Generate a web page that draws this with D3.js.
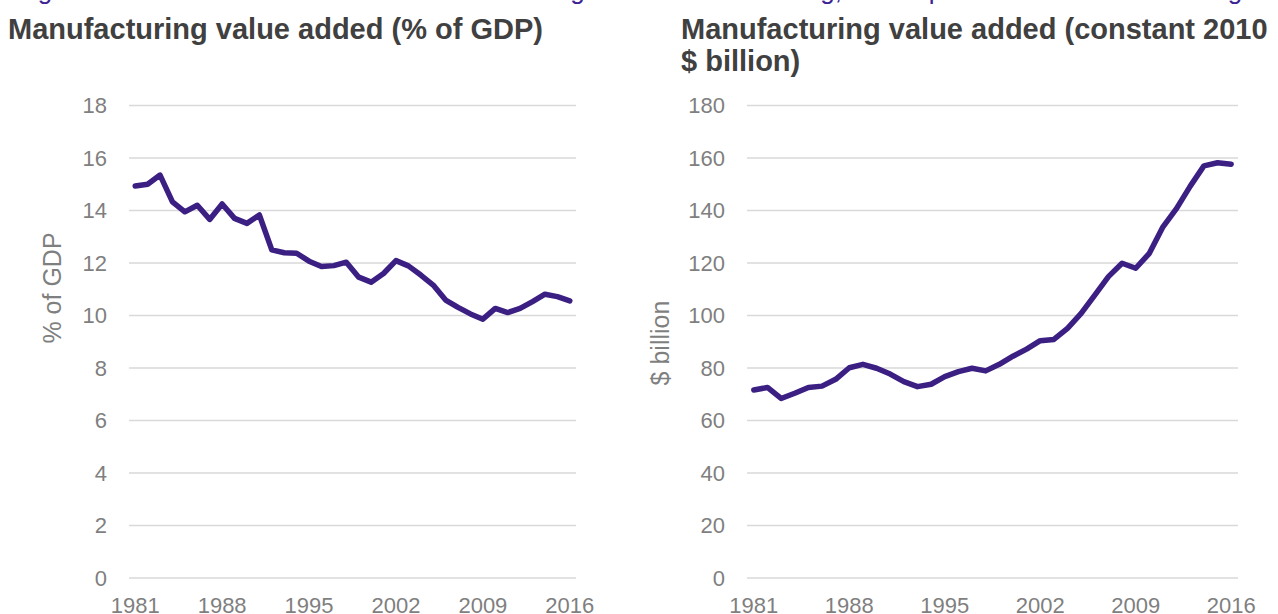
<!DOCTYPE html>
<html>
<head>
<meta charset="utf-8">
<script src="https://cdn.jsdelivr.net/npm/d3@7"></script>
<style>
  html, body { margin: 0; padding: 0; background: #ffffff; }
  svg { display: block; }
</style>
</head>
<body>
<svg id="chart" width="1278" height="614"></svg>
<script>
// Years shown on both panels
const years = d3.range(1981, 2017);
const yearTicks = [1981, 1988, 1995, 2002, 2009, 2016];

// Manufacturing value added, % of GDP
const shareOfGdp = [
  14.93, 15.00, 15.35, 14.33, 13.95, 14.20, 13.66, 14.25, 13.70, 13.51,
  13.83, 12.50, 12.39, 12.37, 12.07, 11.87, 11.90, 12.03, 11.46, 11.27,
  11.60, 12.09, 11.89, 11.54, 11.16, 10.59, 10.31, 10.06, 9.86, 10.27,
  10.11, 10.27, 10.53, 10.81, 10.72, 10.56
];

// Manufacturing value added, constant 2010 $ billion
const constantBillion = [
  71.6, 72.6, 68.4, 70.4, 72.6, 73.1, 75.7, 80.1, 81.4, 79.9,
  77.7, 74.8, 72.9, 73.8, 76.7, 78.6, 79.9, 78.9, 81.4, 84.5,
  87.2, 90.4, 90.9, 95.1, 100.8, 107.8, 114.8, 119.9, 118.0, 123.7,
  133.8, 140.8, 149.3, 157.0, 158.2, 157.6
];

const shareTicks = [0, 2, 4, 6, 8, 10, 12, 14, 16, 18];
const billionTicks = [0, 20, 40, 60, 80, 100, 120, 140, 160, 180];

const FONT = "'Liberation Sans', Arial, Helvetica, sans-serif";
const LINE = "#3b1f82";
const GRID = "#d9d9d9";
const LABEL = "#7f7f7f";
const TITLE = "#404040";

const svg = d3.select("#chart").style("font-family", FONT);

// Figure caption line running along the top edge
svg.append("text")
  .attr("y", -1.5)
  .attr("fill", "#3d2394")
  .style("font-size", "26px")
  .call(t => {
    t.append("tspan").attr("x", 16).text("Figure 1: ");
    t.append("tspan").attr("x", 420).text("Manufacturing value added is falling, but output is ");
    t.append("tspan").attr("x", 1180).text("rising");
  });

function panel(opts) {
  const g = svg.append("g");
  const x = d3.scaleBand().domain(years).range([opts.x0, opts.x1]).paddingInner(0).paddingOuter(0);
  const y = d3.scaleLinear().domain([0, opts.yMax]).range([578, 105.5]);

  // gridlines
  g.append("g")
    .selectAll("line")
    .data(opts.yTicks)
    .join("line")
      .attr("x1", opts.x0).attr("x2", opts.x1)
      .attr("y1", d => y(d)).attr("y2", d => y(d))
      .attr("stroke", GRID).attr("stroke-width", 1.5);

  // y axis labels
  const yAxis = g.append("g")
    .attr("transform", `translate(${opts.x0 - 22},0)`)
    .call(d3.axisLeft(y).tickValues(opts.yTicks).tickSize(0).tickPadding(0).tickFormat(d3.format("d")));
  yAxis.select(".domain").remove();
  yAxis.selectAll("text")
    .attr("fill", LABEL)
    .style("font-size", "22px")
    .style("font-family", FONT);

  // x axis labels
  const xAxis = g.append("g")
    .attr("transform", `translate(0,592)`)
    .call(d3.axisBottom(x).tickValues(yearTicks).tickSize(0).tickPadding(0));
  xAxis.select(".domain").remove();
  xAxis.selectAll("text")
    .attr("fill", LABEL)
    .attr("dy", "0.95em")
    .style("font-size", "22px")
    .style("font-family", FONT);

  // data line
  const line = d3.line()
    .x((d, i) => x(years[i]) + x.bandwidth() / 2)
    .y(d => y(d));
  g.append("path")
    .datum(opts.values)
    .attr("fill", "none")
    .attr("stroke", LINE)
    .attr("stroke-width", 5.5)
    .attr("stroke-linejoin", "round")
    .attr("stroke-linecap", "round")
    .attr("d", line);

  // axis title
  g.append("text")
    .attr("transform", `translate(${opts.axisTitleX},${opts.axisTitleY}) rotate(-90)`)
    .attr("text-anchor", "middle")
    .attr("dominant-baseline", "central")
    .attr("fill", LABEL)
    .style("font-size", "25px")
    .text(opts.axisTitle);

  // panel title
  const title = g.append("text")
    .attr("fill", TITLE)
    .style("font-size", "29px")
    .style("font-weight", "bold");
  opts.title.forEach((t, i) => {
    title.append("tspan").attr("x", opts.titleX).attr("y", 39 + i * 32).text(t);
  });
}

panel({
  x0: 129, x1: 576, yMax: 18, yTicks: shareTicks, values: shareOfGdp,
  axisTitle: "% of GDP", axisTitleX: 52, axisTitleY: 288,
  title: ["Manufacturing value added (% of GDP)"], titleX: 8
});

panel({
  x0: 747, x1: 1238, yMax: 180, yTicks: billionTicks, values: constantBillion,
  axisTitle: "$ billion", axisTitleX: 660, axisTitleY: 343,
  title: ["Manufacturing value added (constant 2010", "$ billion)"], titleX: 681
});
</script>
</body>
</html>
